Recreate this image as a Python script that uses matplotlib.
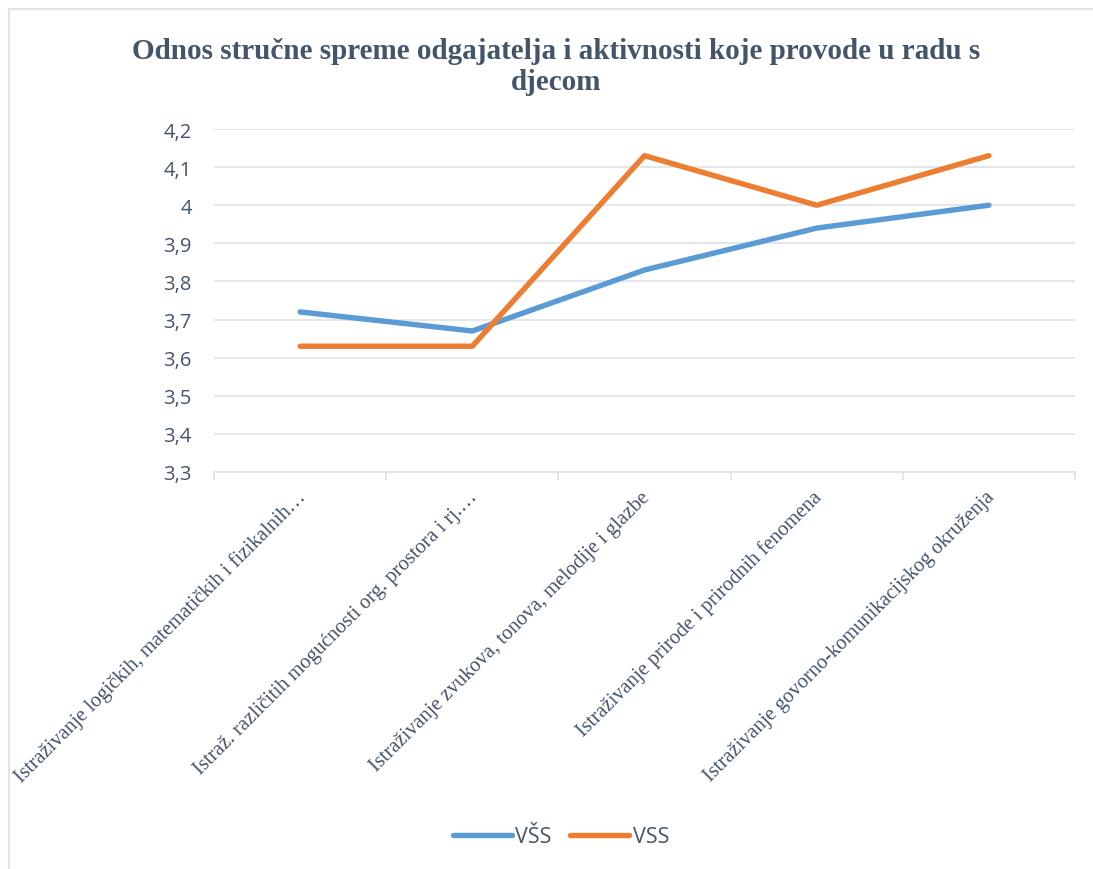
import matplotlib.pyplot as plt
import matplotlib.patches as mpatches
from matplotlib.ticker import FuncFormatter

categories = [
    "Istraživanje logičkih, matematičkih i fizikalnih…",
    "Istraž. različitih mogućnosti org. prostora i rj.…",
    "Istraživanje zvukova, tonova, melodije i glazbe",
    "Istraživanje prirode i prirodnih fenomena",
    "Istraživanje govorno-komunikacijskog okruženja",
]
vss_low = [3.72, 3.67, 3.83, 3.94, 4.00]   # VŠS
vss_high = [3.63, 3.63, 4.13, 4.00, 4.13]  # VSS
series_names = ["VŠS", "VSS"]

text_color = "#44546A"
grid_color = "#E1E4EA"
center_x = 556 / 1093  # chart area centre (its frame runs past the right edge)

fig = plt.figure(figsize=(10.93, 8.7), dpi=100)

# chart border (runs off the right/bottom edge like the source)
fig.patches.append(mpatches.Rectangle(
    (9 / 1093, -0.05), 1.1, 1 - 10 / 870 + 0.05, transform=fig.transFigure,
    fill=False, edgecolor=grid_color, linewidth=1.5))

ax = fig.add_axes([214 / 1093, 1 - 473 / 870, (1075 - 214) / 1093, (473 - 130) / 870])

x = list(range(len(categories)))
ax.plot(x, vss_low, color="#5B9BD5", linewidth=3.9, solid_capstyle="round",
        solid_joinstyle="round", label=series_names[0], zorder=3)
ax.plot(x, vss_high, color="#ED7D31", linewidth=3.9, solid_capstyle="round",
        solid_joinstyle="round", label=series_names[1], zorder=3)

ax.set_xlim(-0.5, len(categories) - 0.5)
ax.set_ylim(3.3, 4.2)
yt = [3.3 + 0.1 * i for i in range(10)]
ax.set_yticks(yt)
ax.yaxis.set_major_formatter(FuncFormatter(lambda v, p: ("%.1f" % v).rstrip("0").rstrip(".").replace(".", ",")))
ax.grid(axis="y", color=grid_color, linewidth=1.3)
ax.set_axisbelow(True)
for s in ["top", "right", "left"]:
    ax.spines[s].set_visible(False)
ax.spines["bottom"].set_color(grid_color)
ax.spines["bottom"].set_linewidth(1.3)

ax.tick_params(axis="y", length=0, pad=16, labelsize=14.5, labelcolor=text_color)
for lab in ax.get_yticklabels():
    lab.set_fontfamily("Open Sans")

# category boundaries as tick marks
ax.set_xticks([i - 0.5 for i in range(len(categories) + 1)])
ax.set_xticklabels([])
ax.tick_params(axis="x", length=6, width=1.3, color=grid_color)

for i, cat in enumerate(categories):
    ax.annotate(cat, xy=(i, 3.3), xycoords="data", xytext=(2, -16),
                textcoords="offset points", rotation=45, ha="right", va="center",
                rotation_mode="anchor", fontsize=14.8, family="Liberation Serif",
                color=text_color)

fig.text(center_x, 1 - 67 / 870,
         "Odnos stručne spreme odgajatelja i aktivnosti koje provode u radu s\ndjecom",
         ha="center", va="center", fontsize=21, fontweight="bold",
         family="Liberation Serif", color=text_color, linespacing=1.2)

leg = fig.legend(loc="center", bbox_to_anchor=(561 / 1093, 1 - 838 / 870), ncol=2,
                 frameon=False, handlelength=2.75, columnspacing=0.85, handletextpad=0.15,
                 prop={"family": "Open Sans", "size": 15.5})
for t in leg.get_texts():
    t.set_color(text_color)

fig.savefig("out.png", dpi=100)
